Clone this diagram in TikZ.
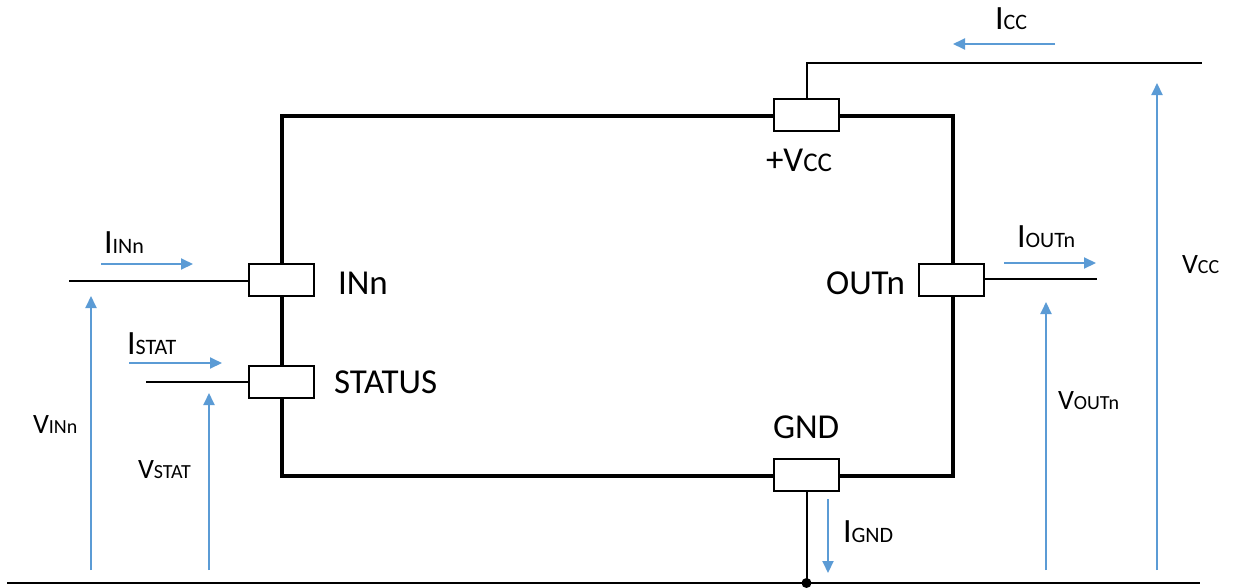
\documentclass[tikz,border=0pt]{standalone}
\usepackage{fontspec}
\setmainfont{Carlito}
\usetikzlibrary{arrows.meta}
\definecolor{cblue}{HTML}{5B9BD5}
\newcommand{\bigsz}{\fontsize{35}{35}\selectfont}
\newcommand{\isz}{\fontsize{34}{34}\selectfont}
\newcommand{\vsz}{\fontsize{28}{28}\selectfont}
\newcommand{\isub}[1]{{\fontsize{22}{22}\selectfont #1}}
\newcommand{\vsub}[1]{{\fontsize{20}{20}\selectfont #1}}
\newcommand{\psub}[1]{{\fontsize{27}{27}\selectfont #1}}
\begin{document}
\begin{tikzpicture}[x=1pt,y=-1pt,
  pinbox/.style={draw=black,fill=white,line width=2pt,minimum width=65pt,minimum height=32pt,inner sep=0pt,outer sep=0pt},
  wire/.style={draw=black,line width=2pt},
  mainbox/.style={draw=black,line width=3.5pt},
  meas/.style={draw=cblue,line width=2pt,-{Triangle[length=12pt,width=11pt]}},
  lbl/.style={anchor=base west,inner sep=0pt,outer sep=0pt},
  lblr/.style={anchor=base east,inner sep=0pt,outer sep=0pt}]
\useasboundingbox (0,0) rectangle (1236,587);
% main box
\draw[mainbox] (282,116) rectangle (953,476);
% pins
\node[pinbox] (vcc) at (806.5,115) {};
\node[pinbox] (inn) at (281.5,280) {};
\node[pinbox] (stat) at (281.5,381.5) {};
\node[pinbox] (out) at (951.5,280) {};
\node[pinbox] (gnd) at (806.5,475) {};
% wire ends
\coordinate (vccend) at (1202,63);
\coordinate (innend) at (69,281);
\coordinate (statend) at (146,382);
\coordinate (outend) at (1097,279);
\coordinate (gl) at (7,583);
\coordinate (gr) at (1200,583);
\coordinate (gdot) at (806.5,583);
% wires
\draw[wire] (vcc.north) |- (vccend);
\draw[wire] (innend) -- (innend -| inn.west);
\draw[wire] (statend) -- (statend -| stat.west);
\draw[wire] (outend -| out.east) -- (outend);
\draw[wire] (gnd.south) -- (gdot);
\draw[wire] (gl) -- (gr);
\fill[black] (gdot) circle (5pt);
% measurement arrows
\coordinate (a1) at (1055,44); \coordinate (a2) at (953,44);
\draw[meas] (a1) -- (a2);
\coordinate (b1) at (1157,570); \coordinate (b2) at (1157,83);
\draw[meas] (b1) -- (b2);
\coordinate (c1) at (101,264); \coordinate (c2) at (193,264);
\draw[meas] (c1) -- (c2);
\coordinate (d1) at (91,570); \coordinate (d2) at (91,296);
\draw[meas] (d1) -- (d2);
\coordinate (e1) at (129,363); \coordinate (e2) at (222,363);
\draw[meas] (e1) -- (e2);
\coordinate (f1) at (209,570); \coordinate (f2) at (209,393);
\draw[meas] (f1) -- (f2);
\coordinate (g1) at (828,499); \coordinate (g2) at (828,573);
\draw[meas] (g1) -- (g2);
\coordinate (h1) at (1004,263); \coordinate (h2) at (1096,263);
\draw[meas] (h1) -- (h2);
\coordinate (k1) at (1046,570); \coordinate (k2) at (1046,302);
\draw[meas] (k1) -- (k2);
% pin labels
\node[lbl] (tinn) at (338,294) {\bigsz INn};
\node[lbl] (tstat) at (334,393) {\bigsz STATUS};
\node[lblr] (tout) at (905,294) {\bigsz OUTn};
\node[lbl] (tgnd) at (773,438) {\bigsz GND};
\node[lbl] (tvcc) at (766,171) {\bigsz +V\psub{CC}};
% measurement labels
\node[lbl] (licc) at (995,29) {\isz I\isub{CC}};
\node[lbl] (liin) at (104,253) {\isz I\isub{INn}};
\node[lbl] (listat) at (127,354) {\isz I\isub{STAT}};
\node[lbl] (ligid) at (843,542) {\isz I\isub{GND}};
\node[lbl] (liout) at (1017,247) {\isz I\isub{OUTn}};
\node[lbl] (lvin) at (33,433) {\vsz V\vsub{INn}};
\node[lbl] (lvstat) at (138,478) {\vsz V\vsub{STAT}};
\node[lbl] (lvcc) at (1182,273) {\vsz V\vsub{CC}};
\node[lbl] (lvout) at (1058,409) {\vsz V\vsub{OUTn}};
\end{tikzpicture}
\end{document}
